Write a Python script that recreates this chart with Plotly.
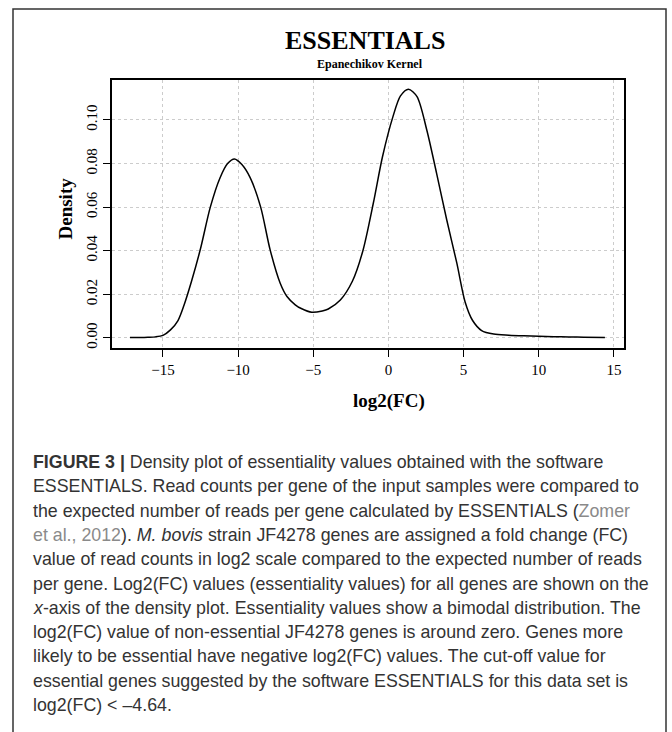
import plotly.graph_objects as go

# ---------------- data ----------------
log2fc = [-17.2, -16.5, -16.0, -15.5, -15.0, -14.5, -14.0, -13.6, -13.1, -12.5,
          -11.85, -11.2, -10.7, -10.24, -9.75, -9.2, -8.5, -7.87, -7.2, -6.75,
          -6.2, -5.8, -5.1, -4.4, -4.0, -3.2, -2.4, -1.7, -1.0, -0.4,
          0.3, 0.8, 1.33, 1.9, 2.55, 3.2, 3.88, 4.55, 5.1, 5.6,
          6.2, 7.0, 8.0, 9.0, 10.0, 11.0, 12.0, 13.0, 14.4]
density = [0.0002, 0.0002, 0.0003, 0.0005, 0.0012, 0.0037, 0.0080, 0.0150, 0.026, 0.041,
           0.060, 0.0735, 0.0800, 0.0821, 0.0795, 0.0735, 0.060, 0.0404, 0.0251, 0.0190,
           0.0152, 0.0135, 0.0118, 0.0124, 0.0133, 0.0174, 0.026, 0.040, 0.062, 0.083,
           0.1015, 0.111, 0.1141, 0.1107, 0.0954, 0.0756, 0.0541, 0.0343, 0.0165, 0.0080,
           0.0034, 0.0018, 0.0013, 0.0010, 0.0008, 0.0006, 0.0005, 0.0003, 0.0002]

x_ticks = [-15, -10, -5, 0, 5, 10, 15]
y_ticks = [0.00, 0.02, 0.04, 0.06, 0.08, 0.10]
y_tick_labels = ["0.00", "0.02", "0.04", "0.06", "0.08", "0.10"]

title_text = "ESSENTIALS"
subtitle_text = "Epanechikov Kernel"
x_title = "log2(FC)"
y_title = "Density"

GREY = "<span style='color:#8a8a8a'>"
caption_lines = [
    "<b>FIGURE 3 |</b> Density plot of essentiality values obtained with the software",
    "ESSENTIALS. Read counts per gene of the input samples were compared to",
    "the expected number of reads per gene calculated by ESSENTIALS (" + GREY + "Zomer</span>",
    GREY + "et al., 2012</span>). <i>M. bovis</i> strain JF4278 genes are assigned a fold change (FC)",
    "value of read counts in log2 scale compared to the expected number of reads",
    "per gene. Log2(FC) values (essentiality values) for all genes are shown on the",
    "<i>x</i>-axis of the density plot. Essentiality values show a bimodal distribution. The",
    "log2(FC) value of non-essential JF4278 genes is around zero. Genes more",
    "likely to be essential have negative log2(FC) values. The cut-off value for",
    "essential genes suggested by the software ESSENTIALS for this data set is",
    "log2(FC) &lt; \u20134.64.",
]

# ---------------- layout helpers ----------------
W, H = 672, 732
L, R, T, B = 112, 48, 80, 384
PW = W - L - R
PH = H - T - B


def px(x):
    return (x - L) / PW


def py(y):
    return (H - B - y) / PH


fig = go.Figure(
    go.Scatter(
        x=log2fc, y=density, mode="lines",
        line=dict(color="black", width=1.5, shape="spline", smoothing=0.8),
        hoverinfo="skip",
    )
)

fig.update_layout(
    width=W, height=H,
    margin=dict(l=L, r=R, t=T, b=B),
    paper_bgcolor="white", plot_bgcolor="white",
    showlegend=False,
    font=dict(family="Liberation Serif", color="black"),
)

axis_common = dict(
    ticks="outside", ticklen=7, tickwidth=1, tickcolor="black",
    showline=True, linecolor="black", linewidth=1.5, mirror=True,
    showgrid=True, gridcolor="#cccccc", griddash="dot", gridwidth=1,
    zeroline=False,
    tickfont=dict(size=15, family="Liberation Serif", color="black"),
)

fig.update_xaxes(range=[-18.39, 15.67], tickvals=x_ticks, **axis_common)
fig.update_yaxes(range=[-0.0046, 0.1183], tickvals=y_ticks, ticktext=y_tick_labels,
                 tickangle=-90, **axis_common)

ann = []
ann.append(dict(text="<b>" + title_text + "</b>", x=px(365), y=py(40), xref="paper", yref="paper",
                showarrow=False, xanchor="center", yanchor="middle",
                font=dict(size=26, family="Liberation Serif", color="black")))
ann.append(dict(text="<b>" + subtitle_text + "</b>", x=px(370), y=py(64), xref="paper", yref="paper",
                showarrow=False, xanchor="center", yanchor="middle",
                font=dict(size=12, family="Liberation Serif", color="black")))
ann.append(dict(text="<b>" + x_title + "</b>", x=px(389), y=py(401), xref="paper", yref="paper",
                showarrow=False, xanchor="center", yanchor="middle",
                font=dict(size=19, family="Liberation Serif", color="black")))
ann.append(dict(text="<b>" + y_title + "</b>", x=px(64.5), y=py(209), xref="paper", yref="paper",
                showarrow=False, xanchor="center", yanchor="middle", textangle=-90,
                font=dict(size=19, family="Liberation Serif", color="black")))

for i, line in enumerate(caption_lines):
    ann.append(dict(text=line, x=px(31), y=py(462 + 24.3 * i), xref="paper", yref="paper",
                    showarrow=False, xanchor="left", yanchor="middle", align="left",
                    font=dict(size=17.8, family="Liberation Sans", color="#333333")))

fig.update_layout(annotations=ann)

fig.add_shape(type="rect", xref="paper", yref="paper",
              x0=px(13), x1=px(666), y0=py(745), y1=py(9),
              line=dict(color="#333333", width=1.5), fillcolor="rgba(0,0,0,0)")

fig.write_html("out.html")
